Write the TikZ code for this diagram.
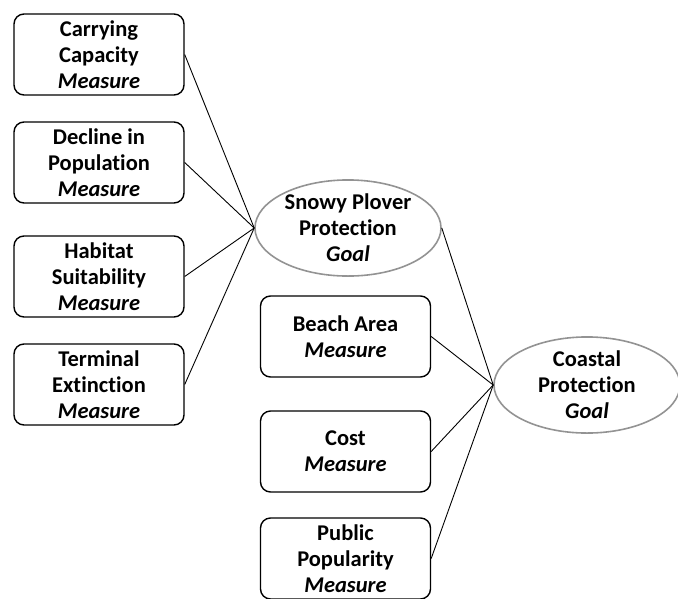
\documentclass[tikz,border=0pt]{standalone}
\usepackage{fontspec}
\setmainfont[Ligatures=NoCommon]{Carlito}
\usepackage{tikz}
\usetikzlibrary{shapes.geometric}

\tikzset{
  measure/.style={draw=black, line width=1.4pt, rounded corners=10pt,
    minimum width=170pt, minimum height=81pt, align=center,
    font=\fontsize{22.5}{26}\selectfont\bfseries, inner sep=0pt},
  goal/.style={ellipse, draw=gray!85, line width=1.6pt,
    minimum width=186pt, minimum height=91pt, align=center,
    font=\fontsize{22.5}{26}\selectfont\bfseries, inner sep=0pt}
}

\begin{document}
\begin{tikzpicture}[x=1pt, y=-1pt]
            \useasboundingbox (0,0) rectangle (678,598);
            \node[measure] (carrying) at (99,54.5) {Carrying\\Capacity\\\textit{Measure}};
            \node[measure] (decline) at (99,162.5) {Decline in\\Population\\\textit{Measure}};
            \node[measure] (habitat) at (99,276.5) {Habitat\\Suitability\\\textit{Measure}};
            \node[measure] (terminal) at (99,384.5) {Terminal\\Extinction\\\textit{Measure}};
            \node[goal] (snowy) at (348,228) {Snowy Plover\\Protection\\\textit{Goal}};
            \node[measure] (beach) at (345.5,336.5) {Beach Area\\\textit{Measure}};
            \node[measure] (cost) at (345.5,451.5) {Cost\\\textit{Measure}};
            \node[measure] (public) at (345.5,558.5) {Public\\Popularity\\\textit{Measure}};
            \node[goal] (coastal) at (587,385) {Coastal\\Protection\\\textit{Goal}};
            \draw[-, line width=0.9pt] (carrying.east)--(snowy.west);
            \draw[-, line width=0.9pt] (decline.east)--(snowy.west);
            \draw[-, line width=0.9pt] (habitat.east)--(snowy.west);
            \draw[-, line width=0.9pt] (terminal.east)--(snowy.west);
            \draw[-, line width=0.9pt] (snowy.east)--(coastal.west);
            \draw[-, line width=0.9pt] (beach.east)--(coastal.west);
            \draw[-, line width=0.9pt] (cost.east)--(coastal.west);
            \draw[-, line width=0.9pt] (public.east)--(coastal.west);
            \end{tikzpicture}
\end{document}
